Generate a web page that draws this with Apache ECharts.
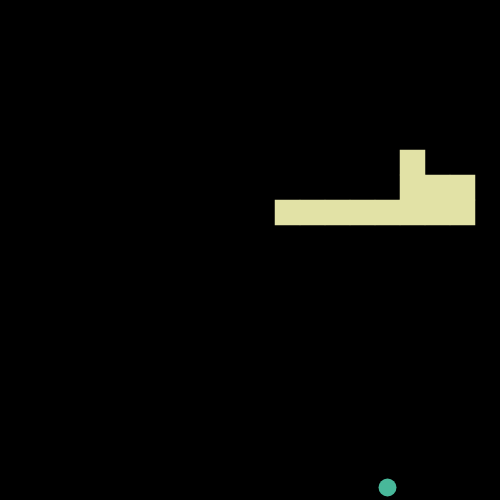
<!DOCTYPE html>
<html>
<head>
<meta charset="utf-8">
<script src="https://cdn.jsdelivr.net/npm/echarts@6/dist/echarts.min.js"></script>
<style>html,body{margin:0;padding:0;background:#000;}#c{width:500px;height:500px;}</style>
</head>
<body>
<div id="c"></div>
<script>
// Grid cells (column, row from top) on a 20x20 board
var snakeCols = [11, 12, 13, 14, 15, 16, 17, 18, 16, 16, 17, 18];
var snakeRows = [8, 8, 8, 8, 8, 8, 8, 8, 7, 6, 7, 7];
var foodCols = [15];
var foodRows = [19];
var boardSize = 20;

var chart = echarts.init(document.getElementById('c'));
function cells(cols, rows) {
  return cols.map(function (c, i) { return [c + 0.5, rows[i] + 0.5]; });
}
chart.setOption({
  backgroundColor: '#000000',
  animation: false,
  grid: { left: 0, right: 0, top: 0, bottom: 0 },
  xAxis: { type: 'value', min: 0, max: boardSize, show: false },
  yAxis: { type: 'value', min: 0, max: boardSize, inverse: true, show: false },
  series: [
    {
      type: 'scatter',
      symbol: 'rect',
      symbolSize: 25.5,
      itemStyle: { color: '#e2e2a6', opacity: 1 },
      data: cells(snakeCols, snakeRows)
    },
    {
      type: 'scatter',
      symbol: 'circle',
      symbolSize: 18,
      itemStyle: { color: '#48b89a', opacity: 1 },
      data: cells(foodCols, foodRows)
    }
  ]
});
</script>
</body>
</html>
